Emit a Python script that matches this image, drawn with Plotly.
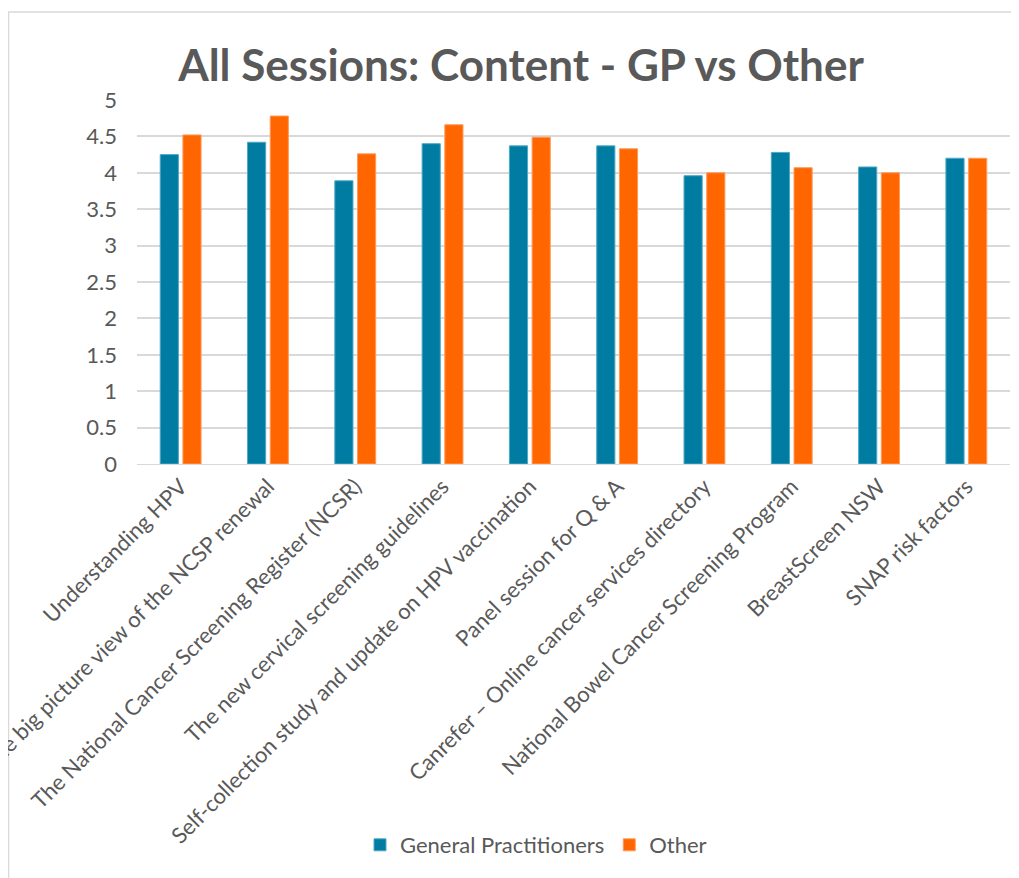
import plotly.graph_objects as go

# session names (x axis categories)
sessions = [
    "Understanding HPV",
    "The big picture view of the NCSP renewal",
    "The National Cancer Screening Register (NCSR)",
    "The new cervical screening guidelines",
    "Self-collection study and update on HPV vaccination",
    "Panel session for Q & A",
    "Canrefer \u2013 Online cancer services directory",
    "National Bowel Cancer Screening Program",
    "BreastScreen NSW",
    "SNAP risk factors",
]

# average content ratings
gp_scores = [4.25, 4.42, 3.89, 4.40, 4.37, 4.37, 3.96, 4.28, 4.08, 4.20]
other_scores = [4.52, 4.78, 4.26, 4.66, 4.49, 4.33, 4.00, 4.07, 4.00, 4.20]

y_ticks = [0, 0.5, 1, 1.5, 2, 2.5, 3, 3.5, 4, 4.5, 5]

# page body has an 8px margin, so the figure sits at (8, 8)
W, H = 1011, 870
L, R, T, B = 129, 9, 92, 414
pw = W - L - R
ph = H - T - B

fig = go.Figure()
fig.add_trace(go.Bar(x=sessions, y=gp_scores, name="General Practitioners",
                     marker=dict(color="#007CA3", line=dict(color="#4fa8c4", width=1))))
fig.add_trace(go.Bar(x=sessions, y=other_scores, name="Other",
                     marker=dict(color="#FF6600", line=dict(color="#ff9a5a", width=1))))

grey = "#595959"
fig.update_layout(
    width=W, height=H,
    margin=dict(l=L, r=R, t=T, b=B, autoexpand=False),
    paper_bgcolor="white", plot_bgcolor="white",
    font=dict(family="Lato", size=22, color=grey),
    barmode="group", bargap=0.48, bargroupgap=0.2,
    title=dict(text="<b>All Sessions: Content - GP vs Other</b>",
               font=dict(family="Lato", size=44, color=grey),
               xref="container", x=513 / W, xanchor="center",
               yref="container", y=1 - 58 / H, yanchor="middle"),
    showlegend=True,
    legend=dict(orientation="h", xref="container", x=528 / W, xanchor="center",
                yref="container", y=1 - 837 / H, yanchor="middle",
                font=dict(size=22, color=grey), itemwidth=30, traceorder="normal"),
    xaxis=dict(tickangle=-45, showgrid=False, showline=True, linecolor="#d9d9d9",
               linewidth=1, ticks="", automargin=False,
               tickfont=dict(size=22, color=grey)),
    yaxis=dict(range=[0, 5], tickvals=y_ticks, ticktext=[f"{v:g}" for v in y_ticks],
               showgrid=True, gridcolor="#d9d9d9", gridwidth=1.5, zeroline=False,
               showline=False, ticks="", ticklabelstandoff=19, automargin=False,
               tickfont=dict(size=22, color=grey)),
    shapes=[dict(type="rect", xref="paper", yref="paper",
                 x0=(0.5 - L) / pw, x1=(W + 5 - L) / pw,
                 y0=-(H + 5 - T - ph) / ph, y1=1 + (T - 4) / ph,
                 line=dict(color="#d9d9d9", width=1.5), layer="below")],
)

fig.write_html("out.html")
